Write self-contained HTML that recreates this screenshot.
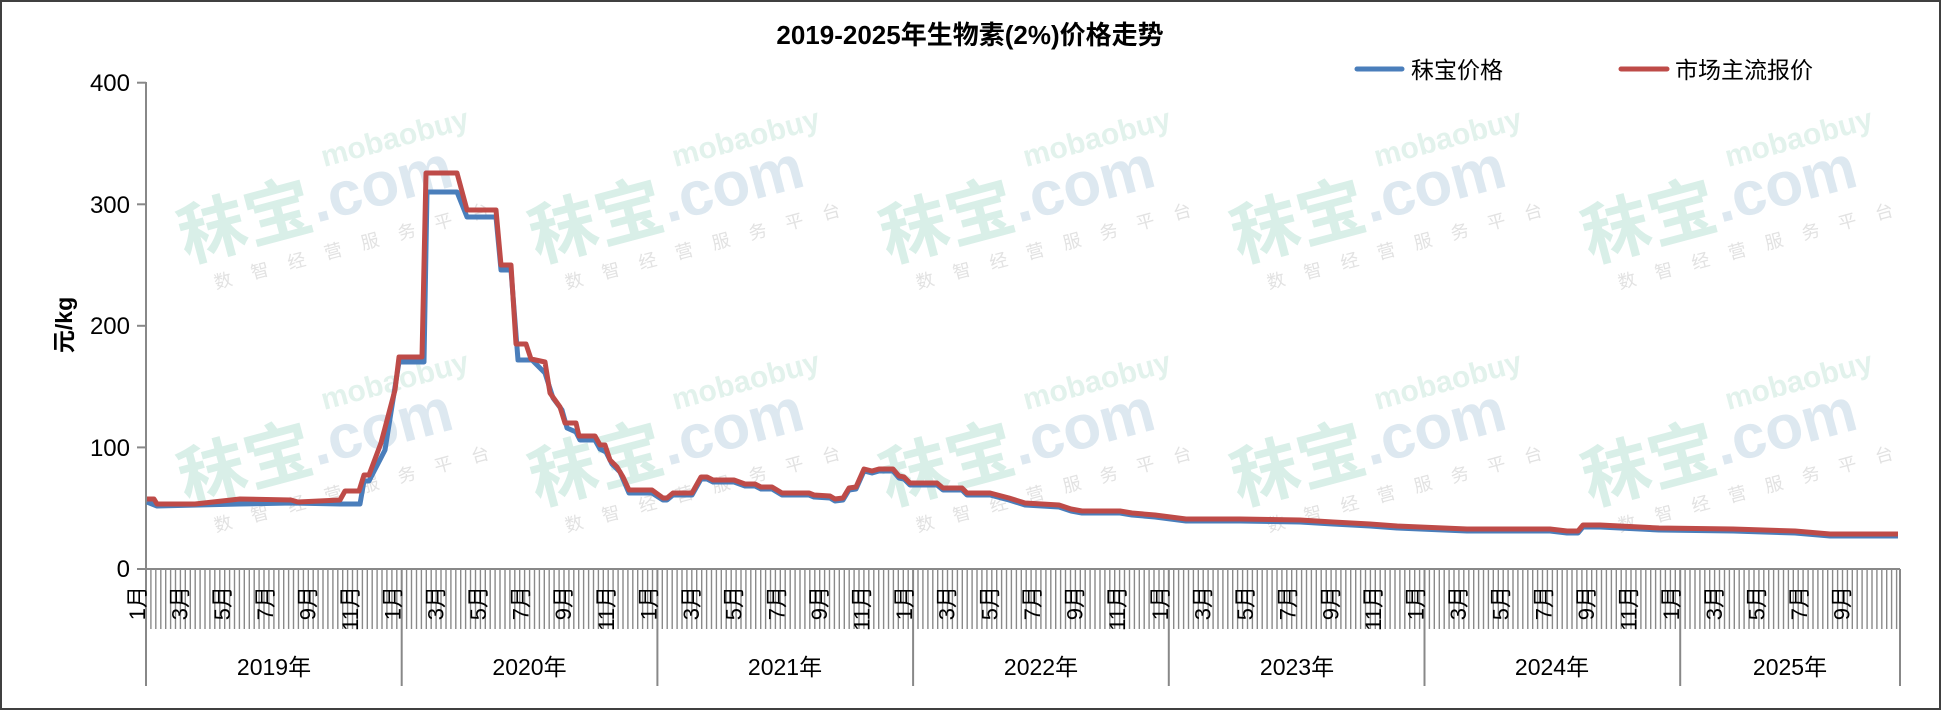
<!DOCTYPE html>
<html><head><meta charset="utf-8"><style>
html,body{margin:0;padding:0;background:#fff;}
svg{display:block;font-family:"Liberation Sans","Noto Sans CJK SC",sans-serif;}
</style></head><body>
<svg width="1941" height="710" viewBox="0 0 1941 710" xmlns="http://www.w3.org/2000/svg">
<rect x="1" y="1" width="1939" height="708" fill="#fff" stroke="#404040" stroke-width="2"/>
<defs>
<g id="wm">
<text x="0" y="0" font-size="68" font-weight="bold" fill="#d9efe8">秣宝</text>
<text x="136" y="-4" font-size="62" font-weight="bold" fill="#dde8f0">.com</text>
<text x="158" y="-56" font-size="30" font-weight="bold" fill="#e2f2ec">mobaobuy</text>
<text x="22" y="34" font-size="18" fill="#e2e2e2" letter-spacing="20">数智经营服务平台</text>
</g>
</defs>
<g>
<use href="#wm" transform="translate(186,262) rotate(-15)"/>
<use href="#wm" transform="translate(537,262) rotate(-15)"/>
<use href="#wm" transform="translate(888,262) rotate(-15)"/>
<use href="#wm" transform="translate(1239,262) rotate(-15)"/>
<use href="#wm" transform="translate(1590,262) rotate(-15)"/>
<use href="#wm" transform="translate(186,505) rotate(-15)"/>
<use href="#wm" transform="translate(537,505) rotate(-15)"/>
<use href="#wm" transform="translate(888,505) rotate(-15)"/>
<use href="#wm" transform="translate(1239,505) rotate(-15)"/>
<use href="#wm" transform="translate(1590,505) rotate(-15)"/>
</g>
<text x="970" y="44" font-size="26" font-weight="bold" text-anchor="middle" fill="#000">2019-2025年生物素(2%)价格走势</text>
<line x1="1357" y1="69" x2="1402" y2="69" stroke="#4a7ebb" stroke-width="5" stroke-linecap="round"/>
<text x="1411" y="78" font-size="23" fill="#000">秣宝价格</text>
<line x1="1621" y1="69" x2="1667" y2="69" stroke="#be4b48" stroke-width="5" stroke-linecap="round"/>
<text x="1675" y="78" font-size="23" fill="#000">市场主流报价</text>
<text transform="translate(72,325) rotate(-90)" font-size="23" text-anchor="middle" font-weight="bold" fill="#000">元/kg</text>
<g stroke="#888" stroke-width="2">
<line x1="146" y1="82" x2="146" y2="570"/>
<line x1="137" y1="82.7" x2="146" y2="82.7"/>
<line x1="137" y1="204.3" x2="146" y2="204.3"/>
<line x1="137" y1="325.8" x2="146" y2="325.8"/>
<line x1="137" y1="447.4" x2="146" y2="447.4"/>
<line x1="137" y1="569" x2="1900" y2="569"/>
</g>
<g font-size="24" text-anchor="end" fill="#000">
<text x="130" y="91">400</text><text x="130" y="213">300</text><text x="130" y="334">200</text><text x="130" y="456">100</text><text x="130" y="577">0</text>
</g>
<g id="hatch" stroke="#8a8a8a" stroke-width="1.4"></g>
<g stroke="#888" stroke-width="2">
<line x1="146" y1="569" x2="146" y2="686"/><line x1="401.7" y1="569" x2="401.7" y2="686"/><line x1="657.4" y1="569" x2="657.4" y2="686"/><line x1="913.1" y1="569" x2="913.1" y2="686"/><line x1="1168.8" y1="569" x2="1168.8" y2="686"/><line x1="1424.5" y1="569" x2="1424.5" y2="686"/><line x1="1680.2" y1="569" x2="1680.2" y2="686"/><line x1="1900" y1="569" x2="1900" y2="686"/>
</g>
<g id="months" font-size="22" fill="#000"></g>
<g font-size="23" text-anchor="middle" fill="#000">
<text x="274" y="675">2019年</text><text x="529.5" y="675">2020年</text><text x="785" y="675">2021年</text><text x="1041" y="675">2022年</text><text x="1297" y="675">2023年</text><text x="1552" y="675">2024年</text><text x="1790" y="675">2025年</text>
</g>
<polyline fill="none" stroke="#4a7ebb" stroke-width="5" stroke-linejoin="round" points="147,502 157,506 240,504 291,503 340,504 360,504 364,481 369,481 385,450 399,362 424,362 427,192 457,192 467,217 496,217 501,270 511,270 518,360 532,360 545,373 553,398 562,410 567,428 576,432 580,440 595,440 600,449 606,452 612,464 620,472 629,493 652,493 663,500 667,500 673,495 692,495 701,479 707,479 713,482 734,482 745,486 755,486 761,489 772,489 782,495 809,495 814,497 830,498 835,501 843,500 849,490 856,489 864,471 872,473 879,471 893,471 899,478 904,479 910,485 937,485 943,490 962,490 967,495 990,495 1009,500 1025,505 1059,507 1071,511 1082,513 1120,513 1132,515 1155,517 1186,521 1240,521 1300,522 1333,524 1370,526 1397,528 1420,529 1467,531 1550,531 1567,533 1578,533 1583,527 1600,527 1659,530 1733,531 1795,533 1830,536 1898,536"/>
<polyline fill="none" stroke="#be4b48" stroke-width="5" stroke-linejoin="round" points="147,499 154,499 157,504 195,504 240,499 291,500 298,502 340,500 345,491 359,491 364,475 369,475 381,443 395,390 399,357 422,357 426,173 457,173 467,210 496,210 501,265 511,265 516,344 526,344 531,359 545,362 550,393 560,407 565,423 576,423 579,436 595,436 600,445 605,445 610,460 617,467 623,477 629,490 652,490 663,498 667,498 673,493 692,493 701,477 707,477 713,480 734,480 745,484 755,484 761,487 772,487 782,493 809,493 814,495 830,496 835,499 843,498 849,488 856,487 864,469 872,471 879,469 893,469 899,476 904,477 910,483 937,483 943,488 962,488 967,493 990,493 1009,498 1025,503 1059,505 1071,509 1082,511 1120,511 1132,513 1155,515 1186,519 1240,519 1300,520 1333,522 1370,524 1397,526 1420,527 1467,529 1550,529 1567,531 1578,531 1583,525 1600,525 1659,528 1733,529 1795,531 1830,534 1898,534"/>
<script>
(function(){
var ns="http://www.w3.org/2000/svg";
var h=document.getElementById("hatch");
var step=255.7/52;
for(var x=146+step;x<1900;x+=step){var l=document.createElementNS(ns,"line");l.setAttribute("x1",x.toFixed(1));l.setAttribute("x2",x.toFixed(1));l.setAttribute("y1","569");l.setAttribute("y2","629");h.appendChild(l);}
var m=document.getElementById("months");
for(var y=0;y<7;y++){for(var k=0;k<12;k+=2){if(y==6&&k>8)break;
var cx=146+y*255.7+k*21.31-9;
var t=document.createElementNS(ns,"text");
t.setAttribute("transform","translate("+cx.toFixed(1)+",586) rotate(-90)");
t.setAttribute("text-anchor","end");t.setAttribute("dy","8");
t.textContent=(k+1)+"月";m.appendChild(t);}}
})();
</script>
</svg>
</body></html>
